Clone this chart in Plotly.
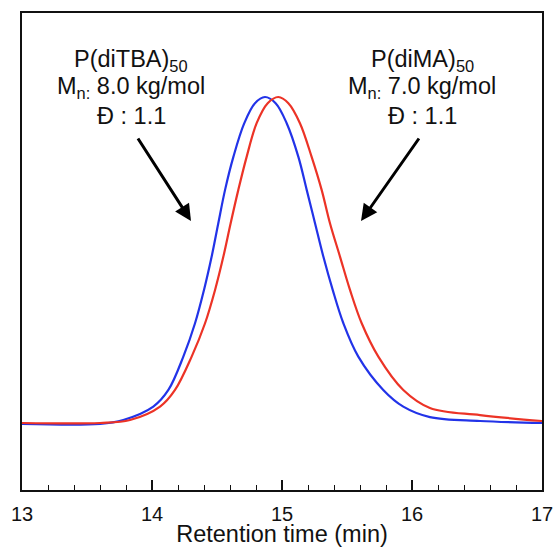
import plotly.graph_objects as go

# Retention time (min) and normalised detector signal
blue_t = [13.0, 13.6, 13.779, 14.010, 14.126, 14.241, 14.331, 14.400, 14.459, 14.510,
          14.562, 14.626, 14.710, 14.792, 14.869, 14.951, 15.036, 15.126, 15.190,
          15.254, 15.318, 15.390, 15.472, 15.587, 15.779, 15.933, 16.138, 16.523, 17.0]
blue_y = [0.0, 0.0, 0.012, 0.053, 0.104, 0.206, 0.308, 0.410, 0.512, 0.614,
          0.716, 0.817, 0.920, 0.981, 1.0, 0.981, 0.920, 0.817, 0.716,
          0.614, 0.512, 0.410, 0.308, 0.206, 0.104, 0.053, 0.021, 0.009, 0.003]

red_t = [13.0, 13.6, 13.831, 14.062, 14.177, 14.305, 14.408, 14.485, 14.549, 14.605,
         14.664, 14.728, 14.805, 14.890, 14.972, 15.049, 15.138, 15.228, 15.305,
         15.369, 15.446, 15.523, 15.613, 15.741, 15.933, 16.138, 16.523, 17.0]
red_y = [0.003, 0.003, 0.012, 0.053, 0.104, 0.206, 0.308, 0.410, 0.512, 0.614,
         0.716, 0.817, 0.920, 0.981, 1.0, 0.981, 0.920, 0.817, 0.716,
         0.614, 0.512, 0.410, 0.308, 0.206, 0.104, 0.049, 0.027, 0.009]

x_ticks = [13, 14, 15, 16, 17]
left_label = ["P(diTBA)<sub>50</sub>", "M<sub>n:</sub> 8.0 kg/mol", "Đ : 1.1"]
right_label = ["P(diMA)<sub>50</sub>", "M<sub>n:</sub> 7.0 kg/mol", "Đ : 1.1"]

FONT = "Liberation Sans, Arial, Helvetica, sans-serif"

W, H = 556, 547
L, R, T, B = 22, 14, 13, 57
pw, ph = W - L - R, H - T - B


def px(x):
    return (x - L) / pw


def py(y):
    return (H - B - y) / ph


fig = go.Figure()
fig.add_trace(go.Scatter(x=blue_t, y=blue_y, mode="lines",
                         line=dict(color="#2233e8", width=2.2, shape="spline", smoothing=1.0),
                         showlegend=False))
fig.add_trace(go.Scatter(x=red_t, y=red_y, mode="lines",
                         line=dict(color="#ec3326", width=2.2, shape="spline", smoothing=1.0),
                         showlegend=False))

annotations = []
line_y = [60, 88, 116]
for cx, lines in ((131, left_label), (422, right_label)):
    for ly, txt in zip(line_y, lines):
        annotations.append(dict(x=px(cx), y=py(ly), xref="paper", yref="paper", text=txt,
                                showarrow=False, xanchor="center", yanchor="middle",
                                font=dict(family=FONT, size=23.5, color="#111111")))

# arrows (head, tail) in pixels
for (hx, hy), (tx, ty) in (((191, 221), (137, 137)), ((361, 221), (420, 137))):
    annotations.append(dict(x=px(hx), y=py(hy), xref="paper", yref="paper", text="",
                            showarrow=True, ax=tx - hx, ay=ty - hy, axref="pixel", ayref="pixel",
                            arrowhead=2, arrowsize=1.1, arrowwidth=3, arrowcolor="#000000"))

fig.update_layout(
    width=W, height=H,
    margin=dict(l=L, r=R, t=T, b=B, pad=0, autoexpand=False),
    paper_bgcolor="white", plot_bgcolor="white",
    font=dict(family=FONT, color="#111111"),
    annotations=annotations,
    xaxis=dict(range=[13, 17], tickvals=x_ticks, ticktext=[str(v) for v in x_ticks],
               ticks="inside", ticklen=10, tickwidth=1.5, tickcolor="#111111",
               minor=dict(dtick=0.2, ticks="inside", ticklen=5, tickwidth=1.2, tickcolor="#111111"),
               showline=True, linewidth=2, linecolor="#111111", mirror=True,
               showgrid=False, zeroline=False, automargin=False, ticklabelstandoff=5,
               tickfont=dict(family=FONT, size=20, color="#111111"),
               title=dict(text="Retention time (min)",
                          font=dict(family=FONT, size=23.5, color="#111111"), standoff=15)),
    yaxis=dict(range=[-0.202, 1.257], showticklabels=False, ticks="",
               showline=True, linewidth=2, linecolor="#111111", mirror=True,
               showgrid=False, zeroline=False, automargin=False),
)

fig.write_html("out.html", config={"displayModeBar": False},
               post_script="document.body.style.margin='0px';document.body.style.overflow='hidden';")
